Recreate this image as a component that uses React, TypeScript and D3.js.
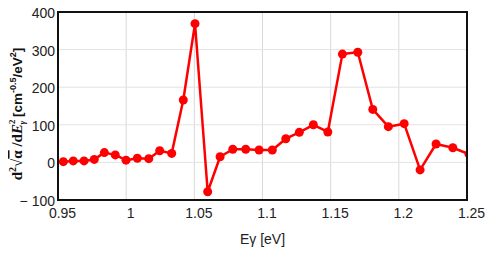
import React, { useEffect, useRef } from 'react';
import { scaleLinear, line, select } from 'd3';

// photon energy [eV] and second derivative values
const energies = [0.9539, 0.9612, 0.9691, 0.9766, 0.984, 0.992, 0.9999, 1.0082, 1.0166, 1.0246, 1.0334, 1.0419, 1.0505, 1.0598, 1.0689, 1.0782, 1.0877, 1.0975, 1.1072, 1.1171, 1.127, 1.1373, 1.1479, 1.1586, 1.1699, 1.1809, 1.1923, 1.2039, 1.2156, 1.2273, 1.2396, 1.2515];
const values = [2, 4, 4, 8, 26, 20, 6, 11, 10, 31, 24, 166, 369, -78, 15, 35, 35, 33, 33, 63, 80, 100, 81, 288, 293, 141, 95, 103, -20, 49, 39, 22];

const xTicks = [0.95, 1.0, 1.05, 1.1, 1.15, 1.2, 1.25];
const xTickLabels = ['0.95', '1', '1.05', '1.1', '1.15', '1.2', '1.25'];
const yTicks = [-100, 0, 100, 200, 300, 400];
const yTickLabels = ['\u2212 100', '0', '100', '200', '300', '400'];

function App() {
  const svgRef = useRef<SVGSVGElement | null>(null);

  const width = 498,
    height = 261,
    margin = { top: 12, right: 31, bottom: 61, left: 58 };
  const innerW = width - margin.left - margin.right;
  const innerH = height - margin.top - margin.bottom;

  useEffect(() => {
    const svg = select(svgRef.current);
    svg.selectAll('*').remove();

    const xScale = scaleLinear().domain([0.95, 1.25]).range([0, innerW]);
    const yScale = scaleLinear().domain([-100, 400]).range([innerH, 0]);

    svg.append('defs')
      .append('clipPath')
      .attr('id', 'plotClip')
      .append('rect')
      .attr('width', innerW)
      .attr('height', innerH);

    const g = svg.append('g').attr('transform', `translate(${margin.left}, ${margin.top})`);

    // grid
    g.selectAll('.vgrid')
      .data(xTicks.slice(1, -1))
      .enter()
      .append('line')
      .attr('x1', d => xScale(d))
      .attr('x2', d => xScale(d))
      .attr('y1', 0)
      .attr('y2', innerH)
      .attr('stroke', '#d9d9d9')
      .attr('stroke-width', 1);

    g.selectAll('.hgrid')
      .data(yTicks.slice(1, -1))
      .enter()
      .append('line')
      .attr('x1', 0)
      .attr('x2', innerW)
      .attr('y1', d => yScale(d))
      .attr('y2', d => yScale(d))
      .attr('stroke', '#e3e3e3')
      .attr('stroke-width', 1);

    // tick labels
    g.selectAll('.xlab')
      .data(xTicks)
      .enter()
      .append('text')
      .attr('x', d => xScale(d) + 4.5)
      .attr('y', innerH + 18)
      .attr('text-anchor', 'middle')
      .attr('font-family', 'Liberation Sans, Arial, sans-serif')
      .attr('font-size', 14)
      .attr('fill', '#222')
      .text((d, i) => xTickLabels[i]);

    g.selectAll('.ylab')
      .data(yTicks)
      .enter()
      .append('text')
      .attr('x', -3)
      .attr('y', d => yScale(d) + 6)
      .attr('text-anchor', 'end')
      .attr('font-family', 'Liberation Sans, Arial, sans-serif')
      .attr('font-size', 14)
      .attr('fill', '#222')
      .text((d, i) => yTickLabels[i]);

    // data line + markers
    const data = energies.map((e, i) => ({ e, v: values[i] }));
    const lineGenerator = line<{ e: number; v: number }>()
      .x(d => xScale(d.e))
      .y(d => yScale(d.v));

    const plot = g.append('g').attr('clip-path', 'url(#plotClip)');
    plot.append('path')
      .datum(data)
      .attr('fill', 'none')
      .attr('stroke', '#ff0000')
      .attr('stroke-width', 2.5)
      .attr('stroke-linejoin', 'round')
      .attr('d', lineGenerator);

    plot.selectAll('circle')
      .data(data)
      .enter()
      .append('circle')
      .attr('cx', d => xScale(d.e))
      .attr('cy', d => yScale(d.v))
      .attr('r', 4.5)
      .attr('fill', '#ff0000');

    // frame
    g.append('rect')
      .attr('width', innerW)
      .attr('height', innerH)
      .attr('fill', 'none')
      .attr('stroke', '#111')
      .attr('stroke-width', 2);

    // x title
    g.append('text')
      .attr('x', innerW / 2)
      .attr('y', innerH + 44)
      .attr('text-anchor', 'middle')
      .attr('font-family', 'Liberation Sans, Arial, sans-serif')
      .attr('font-size', 14)
      .attr('fill', '#222')
      .text('Eγ [eV]');

    // y title
    const yt = svg.append('text')
      .attr('transform', `translate(22, ${margin.top + innerH / 2 + 8}) rotate(-90)`)
      .attr('text-anchor', 'middle')
      .attr('font-weight', 'bold')
      .attr('font-size', 15)
      .attr('fill', '#111');
    const serif = 'Liberation Serif, Times New Roman, serif';
    const sans = 'Liberation Sans, Arial, sans-serif';
    yt.append('tspan').attr('font-family', serif).text('d');
    yt.append('tspan').attr('font-family', serif).attr('font-size', 10).attr('dy', -6).text('2');
    yt.append('tspan').attr('font-family', serif).attr('dy', 6).text('√');
    yt.append('tspan').attr('font-family', serif).attr('text-decoration', 'overline').text('α');
    yt.append('tspan').attr('font-family', serif).text(' /d');
    yt.append('tspan').attr('font-family', serif).attr('font-style', 'italic').text('E');
    yt.append('tspan').attr('font-family', serif).attr('font-size', 9).attr('dy', -7).text('2');
    yt.append('tspan').attr('font-family', serif).attr('font-size', 9).attr('font-style', 'italic').attr('dx', -5).attr('dy', 10).text('γ');
    yt.append('tspan').attr('font-family', sans).attr('font-size', 13.5).attr('dy', -3).text(' [cm');
    yt.append('tspan').attr('font-family', sans).attr('font-size', 9).attr('dy', -6).text('-0.5');
    yt.append('tspan').attr('font-family', sans).attr('font-size', 13.5).attr('dy', 6).text('/eV');
    yt.append('tspan').attr('font-family', sans).attr('font-size', 9).attr('dy', -6).text('2');
    yt.append('tspan').attr('font-family', sans).attr('font-size', 13.5).attr('dy', 6).text(']');
  }, []);

  return (
    <div className='wrapper'>
      <svg
        ref={svgRef}
        width={width}
        height={height}
        style={{ position: 'absolute', left: 0, top: 0, background: '#fff' }}
      ></svg>
    </div>
  );
}

export default App;
